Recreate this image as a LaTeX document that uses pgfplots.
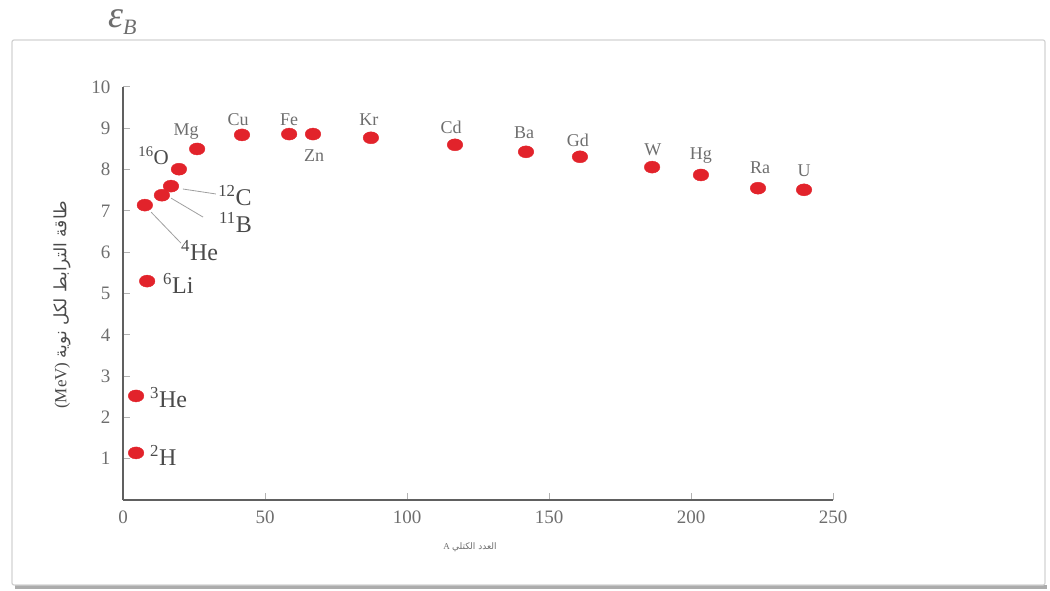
\documentclass[border=0pt]{standalone}
\usepackage{pgfplots}
\pgfplotsset{compat=1.18}
\usepackage{fontspec}
\setmainfont{Liberation Serif}
\newfontfamily\arabicfont[Script=Arabic]{DejaVu Sans}
\TeXXeTstate=1
\definecolor{dotred}{HTML}{E2232B}
\definecolor{txt}{HTML}{4A4A4A}
\definecolor{txtl}{HTML}{6E6E6E}
\pgfplotstableread{
x y
4.6 1.14
4.6 2.52
8.5 5.30
7.7 7.14
13.7 7.38
16.9 7.60
19.7 8.01
26.1 8.50
41.9 8.84
58.5 8.86
66.9 8.86
87.3 8.77
116.9 8.60
141.9 8.43
160.9 8.31
186.3 8.06
203.5 7.87
223.6 7.55
239.8 7.51
}\bedata
\begin{document}
\begin{tikzpicture}[x=1pt,y=1pt]
\path[use as bounding box] (0,0) rectangle (1050,590);
% frame
\fill[gray!65] (15,1) rectangle (1047,5);
\draw[gray!35, line width=1.2pt, rounded corners=2pt] (12,5) rectangle (1045,550);
\node[anchor=base west, inner sep=0, text=txtl] at (108,562) {\fontsize{38}{42}\selectfont\itshape ε\raisebox{-7pt}{\fontsize{22}{24}\selectfont B}};
\begin{axis}[
 at={(123pt,90pt)}, anchor=south west,
 width=710pt, height=413pt, scale only axis,
 xmin=0, xmax=250, ymin=0, ymax=10,
 axis x line*=bottom, axis y line*=left,
 xtick={0,50,...,250}, ytick={1,...,10},
 tick align=inside,
 major tick length=7pt,
 /pgf/number format/assume math mode=true,
 ticklabel style={font=\fontsize{19}{20}\selectfont, text=txtl},
 xticklabel style={yshift=-7pt},
 yticklabel style={xshift=-9pt},
 axis line style={gray!75!black, line width=1.2pt},
 tick style={gray!60, line width=1pt},
 clip=false,
]
\addplot[only marks, mark=*, mark size=6pt, color=dotred,
  mark options={xscale=1.3, fill=dotred, draw=dotred}] table {\bedata};
% leader lines
\draw[gray!75, line width=0.8pt] (axis cs:9.9,6.97) -- (axis cs:20.4,6.22);
\draw[gray!75, line width=0.8pt] (axis cs:16.9,7.31) -- (axis cs:28.2,6.85);
\draw[gray!75, line width=0.8pt] (axis cs:21.1,7.53) -- (axis cs:32.7,7.41);
% light nuclei labels
\begin{scope}[every node/.style={text=txt, font=\fontsize{24}{26}\selectfont, inner sep=0}]
\node[anchor=west] at (axis cs:9.5,1.09) {\textsuperscript{2}H};
\node[anchor=west] at (axis cs:9.5,2.47) {\textsuperscript{3}He};
\node[anchor=west] at (axis cs:14.1,5.25) {\textsuperscript{6}Li};
\node[anchor=west] at (axis cs:20.4,6.05) {\textsuperscript{4}He};
\node[anchor=west] at (axis cs:33.8,6.73) {\textsuperscript{11}B};
\node[anchor=west] at (axis cs:33.5,7.36) {\textsuperscript{12}C};
\node[anchor=east, font=\fontsize{21}{24}\selectfont] at (axis cs:16.2,8.33) {\textsuperscript{16}O};
\end{scope}
% heavier nuclei labels
\begin{scope}[every node/.style={text=txtl, font=\fontsize{18}{20}\selectfont, inner sep=0}]
\node at (axis cs:22.2,8.93) {Mg};
\node at (axis cs:40.5,9.20) {Cu};
\node at (axis cs:58.5,9.22) {Fe};
\node at (axis cs:67.3,8.35) {Zn};
\node at (axis cs:86.6,9.22) {Kr};
\node at (axis cs:115.5,9.03) {Cd};
\node at (axis cs:141.2,8.89) {Ba};
\node at (axis cs:160.2,8.72) {Gd};
\node at (axis cs:186.6,8.47) {W};
\node at (axis cs:203.5,8.33) {Hg};
\node at (axis cs:224.3,8.04) {Ra};
\node at (axis cs:239.8,7.97) {U};
\end{scope}
\end{axis}
\node[rotate=90, text=txt] at (62,285) {\fontsize{17}{20}\selectfont (MeV) {\arabicfont\beginR طاقة الترابط لكل نوية\endR}};
\node[text=txtl] at (470,43) {\fontsize{9}{10}\selectfont A {\arabicfont\beginR العدد الكتلي\endR}};
\end{tikzpicture}
\end{document}
